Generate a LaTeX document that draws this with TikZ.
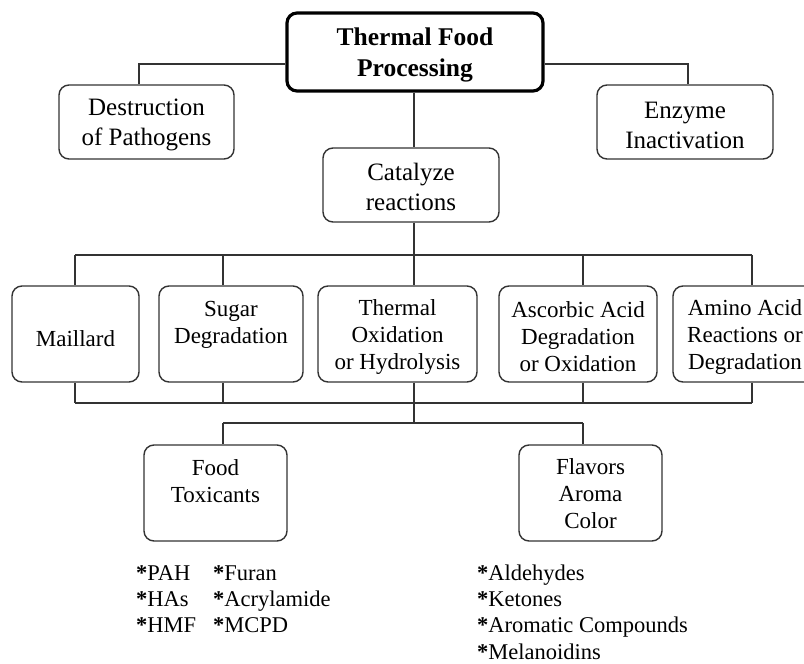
\documentclass[tikz,border=0pt]{standalone}
\usepackage{fontspec}
\setmainfont{Liberation Serif}
\newcommand\tp[1]{\rule{0pt}{#1pt}}
\newcommand\lst[1]{\vtop{\baselineskip=26.2pt\lineskiplimit=0pt #1}}
\begin{document}
\begin{tikzpicture}[x=1pt,y=-1pt,
  box/.style={draw=black!80, line width=1.4pt, rounded corners=10pt, inner sep=0pt, align=center, text=black},
  topbox/.style={box, draw=black, line width=3.2pt},
  fa/.style={font=\fontsize{25}{30}\selectfont},
  fb/.style={font=\fontsize{23}{27}\selectfont},
  conn/.style={draw=black!80, line width=1.4pt},
  list/.style={inner sep=0pt, anchor=base west, font=\fontsize{22.5}{26}\selectfont}
]
\useasboundingbox (0,0) rectangle (804,664);
% nodes
\node[topbox, minimum width=256pt, minimum height=78pt, font=\fontsize{25.5}{31}\selectfont\bfseries] (top) at (415,52) {\tp{23}Thermal Food\\Processing};
\node[box, fa, minimum width=175pt, minimum height=74pt] (destr) at (146.5,122) {\tp{23}Destruction\\of Pathogens};
\node[box, fa, minimum width=176pt, minimum height=74pt] (enz) at (685,122) {\tp{23}Enzyme\\Inactivation};
\node[box, fa, minimum width=176pt, minimum height=74pt] (cat) at (411,185) {\tp{21}Catalyze\\reactions};
\node[box, fb, minimum width=127pt, minimum height=96pt] (mail) at (75.5,334) {\tp{25.5}Maillard};
\node[box, fb, minimum width=144pt, minimum height=96pt] (sugar) at (231,334) {\tp{27.5}Sugar\\Degradation\\\strut};
\node[box, fb, minimum width=159pt, minimum height=96pt] (therm) at (397.5,334) {\tp{21.5}Thermal\\Oxidation\\or Hydrolysis};
\node[box, fb, minimum width=158pt, minimum height=96pt] (asc) at (578,334) {\tp{21.5}Ascorbic Acid\\Degradation\\or Oxidation};
\node[box, fb, minimum width=144pt, minimum height=96pt] (amino) at (745,334) {\tp{21.5}Amino Acid\\Reactions or\\Degradation};
\node[box, fb, minimum width=143pt, minimum height=96pt] (food) at (215.5,493) {\tp{27.5}Food\\Toxicants\\\strut};
\node[box, fb, minimum width=143pt, minimum height=96pt] (flav) at (590.5,493) {\tp{18}Flavors\\Aroma\\Color};
% lists
\node[list] (tox) at (136,580.5) {\lst{%
\hbox{\makebox[77pt][l]{\textbf{*}PAH}\textbf{*}Furan}%
\hbox{\makebox[77pt][l]{\textbf{*}HAs}\textbf{*}Acrylamide}%
\hbox{\makebox[77pt][l]{\textbf{*}HMF}\textbf{*}MCPD}}};
\node[list] (arom) at (477,580.5) {\lst{%
\hbox{\textbf{*}Aldehydes}%
\hbox{\textbf{*}Ketones}%
\hbox{\textbf{*}Aromatic Compounds}%
\hbox{\textbf{*}Melanoidins}}};
% coordinates
\coordinate (tl) at (139,64);
\coordinate (tr) at (688,64);
\coordinate (v1) at (414,0);
\coordinate (a1) at (75,255);
\coordinate (a2) at (223,255);
\coordinate (a3) at (414,255);
\coordinate (a4) at (583,255);
\coordinate (a5) at (752,255);
\coordinate (b1) at (75,403);
\coordinate (b2) at (223,403);
\coordinate (b3) at (414,403);
\coordinate (b4) at (583,403);
\coordinate (b5) at (752,403);
\coordinate (c0) at (414,423);
\coordinate (c1) at (223,423);
\coordinate (c2) at (583,423);
% connectors
\draw[conn] (top.west |- tl) -- (tl) -- (tl |- destr.north);
\draw[conn] (top.east |- tr) -- (tr) -- (tr |- enz.north);
\draw[conn] (v1 |- top.south) -- (v1 |- cat.north);
\draw[conn] (cat.south -| a3) -- (a3);
\draw[conn] (a1) -- (a5);
\draw[conn] (a1) -- (a1 |- mail.north);
\draw[conn] (a2) -- (a2 |- sugar.north);
\draw[conn] (a3) -- (a3 |- therm.north);
\draw[conn] (a4) -- (a4 |- asc.north);
\draw[conn] (a5) -- (a5 |- amino.north);
\draw[conn] (b1 |- mail.south) -- (b1);
\draw[conn] (b2 |- sugar.south) -- (b2);
\draw[conn] (b3 |- therm.south) -- (b3);
\draw[conn] (b4 |- asc.south) -- (b4);
\draw[conn] (b5 |- amino.south) -- (b5);
\draw[conn] (b1) -- (b5);
\draw[conn] (b3) -- (c0);
\draw[conn] (c1) -- (c2);
\draw[conn] (c1) -- (c1 |- food.north);
\draw[conn] (c2) -- (c2 |- flav.north);
\end{tikzpicture}
\end{document}
